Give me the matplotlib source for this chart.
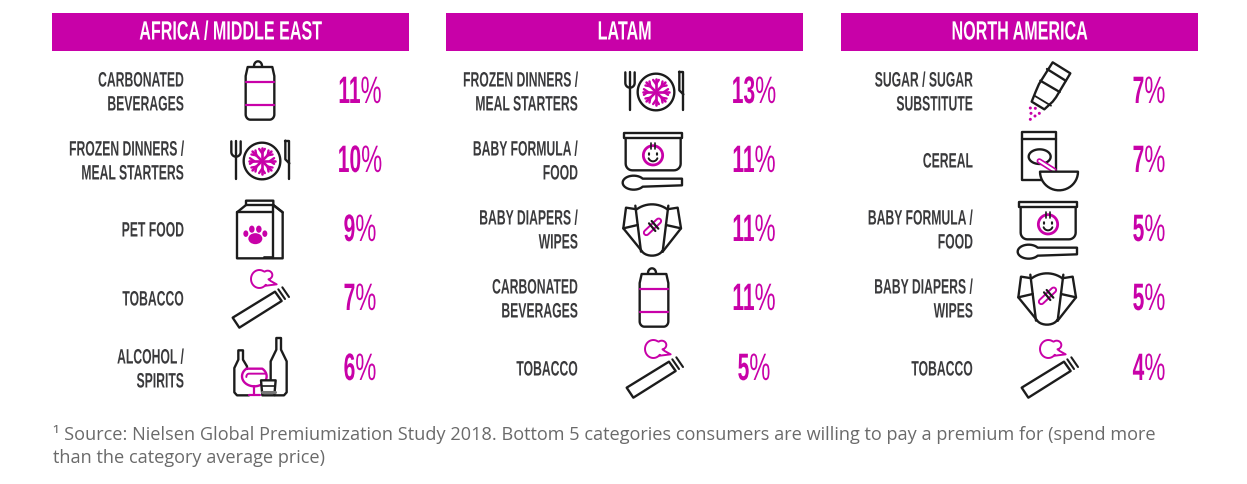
import matplotlib
matplotlib.use("Agg")
import matplotlib.pyplot as plt
import matplotlib.patches as mpatches
import matplotlib.patheffects as pe
from matplotlib.transforms import Affine2D, Bbox
import numpy as np

PINK = "#C801A8"
DARK = "#1c1c1c"
LABEL = "#3a3a3c"
BASE_FONT = "Liberation Sans"

regions = ["AFRICA / MIDDLE EAST", "LATAM", "NORTH AMERICA"]
africa_labels = ["CARBONATED\nBEVERAGES", "FROZEN DINNERS /\nMEAL STARTERS", "PET FOOD", "TOBACCO", "ALCOHOL /\nSPIRITS"]
latam_labels = ["FROZEN DINNERS /\nMEAL STARTERS", "BABY FORMULA /\nFOOD", "BABY DIAPERS /\nWIPES", "CARBONATED\nBEVERAGES", "TOBACCO"]
north_labels = ["SUGAR / SUGAR\nSUBSTITUTE", "CEREAL", "BABY FORMULA /\nFOOD", "BABY DIAPERS /\nWIPES", "TOBACCO"]
africa_values = [11, 10, 9, 7, 6]
latam_values = [13, 11, 11, 11, 5]
north_values = [7, 7, 5, 5, 4]
africa_icons = ["can", "plate", "carton", "cig", "alcohol"]
latam_icons = ["plate", "baby", "diaper", "can", "cig"]
north_icons = ["shaker", "cereal", "baby", "diaper", "cig"]
footnote = ("\u00b9 Source: Nielsen Global Premiumization Study 2018. Bottom 5 categories consumers are willing to pay a premium for (spend more\n"
            "than the category average price)")

panel_x = [52, 446, 841]
panel_w = 357
row_y = [92, 161, 230, 299, 369]

fig = plt.figure(figsize=(12.47, 4.84), dpi=100)
ax = fig.add_axes([0, 0, 1, 1])
ax.set_xlim(0, 1247)
ax.set_ylim(484, 0)
ax.axis("off")


# no condensed family is installed, so squeeze the glyphs sideways around the text anchor
class Squeeze(pe.AbstractPathEffect):
    def __init__(self, anchor_x, sx):
        super().__init__()
        self.anchor_x = anchor_x
        self.sx = sx

    def draw_path(self, renderer, gc, tpath, affine, rgbFace=None):
        t = affine + Affine2D().translate(-self.anchor_x, 0).scale(self.sx, 1).translate(self.anchor_x, 0)
        renderer.draw_path(gc, tpath, t, rgbFace)


def squeeze_text(txt, anchor_x, sx):
    txt.set_path_effects([Squeeze(anchor_x, sx)])
    orig = txt.get_window_extent

    # keep the reported box in step with what is really drawn
    def get_window_extent(renderer=None, dpi=None):
        bb = orig(renderer, dpi)
        return Bbox.from_extents(anchor_x + (bb.x0 - anchor_x) * sx, bb.y0,
                                 anchor_x + (bb.x1 - anchor_x) * sx, bb.y1)
    txt.get_window_extent = get_window_extent


# icon outlines are written in 3x crop coordinates around an origin
def mapper(cx, cy, ox, oy):
    return lambda pts: [(cx + (x - ox) / 3.0, cy + (y - oy) / 3.0) for x, y in pts]


def line(pts, color=DARK, lw=1.7, closed=False, fill="none"):
    if pts[0] == pts[-1]:
        closed = True
    ax.add_patch(mpatches.Polygon(pts, closed=closed, fill=fill != "none", facecolor=fill,
                                  edgecolor=color, lw=lw, joinstyle="round", capstyle="round"))


def arc_pts(x0, y0, rx, ry, a0, a1, n=24):
    t = np.radians(np.linspace(a0, a1, n))
    return list(zip(x0 + rx * np.cos(t), y0 + ry * np.sin(t)))


def draw_can(cx, cy):
    P = mapper(cx, cy, 631, 281)
    line(P([(588, 230), (594, 203), (668, 203), (674, 230), (674, 345)] + arc_pts(660, 345, 14, 16, 0, 90)
           + arc_pts(602, 345, 14, 16, 90, 180) + [(588, 230)]))
    line(P(arc_pts(625, 200, 12, 14, 180, 360)))
    line(P([(589, 248), (673, 248)]), PINK, 1.6)
    line(P([(589, 318), (673, 318)]), PINK, 1.6)


def draw_plate(cx, cy):
    P = mapper(cx, cy, 168, 97)
    line(P(arc_pts(168, 97, 55, 55, 0, 360, 60)), lw=1.7, closed=True)
    for a in np.arange(0, 180, 45):
        dx, dy = np.cos(np.radians(a)), np.sin(np.radians(a))
        line(P([(168 - 40 * dx, 97 - 40 * dy), (168 + 40 * dx, 97 + 40 * dy)]), PINK, 1.9)
    for a in np.arange(0, 360, 45):
        for side in (-35, 35):
            d0 = np.radians(a)
            d1 = np.radians(a + side)
            bx, by = 168 + 24 * np.cos(d0), 97 + 24 * np.sin(d0)
            line(P([(bx, by), (bx + 15 * np.cos(d1), by + 15 * np.sin(d1))]), PINK, 1.7)
    # fork
    line(P([(90, 38), (90, 152)]))
    line(P([(76, 38), (76, 70)] + arc_pts(90, 70, 14, 14, 180, 90, 8) + arc_pts(90, 70, 14, 14, 90, 0, 8) + [(104, 38)]))
    # knife
    line(P([(238, 36), (250, 36), (250, 152)]))
    line(P([(238, 36), (238, 92), (250, 104)]))


def draw_carton(cx, cy):
    P = mapper(cx, cy, 632, 105)
    line(P([(563, 52), (563, 190), (700, 190), (700, 52), (672, 30), (672, 17), (590, 17), (590, 30), (563, 52)]))
    line(P([(563, 52), (672, 52), (672, 190)]))
    line(P([(590, 30), (672, 30), (672, 52)]))
    line(P([(672, 30), (700, 52)]))
    line(P([(645, 190), (645, 186), (672, 186)]), lw=1.2)
    px, py = P([(618, 125)])[0]
    ax.add_patch(mpatches.Ellipse((px, py + 2), 14, 11, color=PINK, lw=0))
    for dx, dy, s in [(-9.5, -3, 5), (-3.5, -7.5, 5.5), (3.5, -7.5, 5.5), (9.5, -3, 5)]:
        ax.add_patch(mpatches.Ellipse((px + dx, py + dy), s, s * 1.3, color=PINK, lw=0))


def draw_cig(cx, cy):
    P = mapper(cx, cy, 630, 306)
    line(P([(548, 368), (675, 290), (695, 318), (568, 398)]), closed=True)
    line(P([(685, 283), (705, 312)]), lw=1.5)
    line(P([(697, 277), (717, 306)]), lw=1.5)
    line(P(arc_pts(628, 252, 25, 27, 40, 300, 30) + arc_pts(653, 240, 14, 13, 230, 440, 16)
           + [(662, 258), (680, 268), (648, 272)]), PINK, 1.4)


def draw_alcohol(cx, cy):
    P = mapper(cx, cy, 105, 105)
    line(P([(66, 108), (66, 100), (54, 80), (54, 52), (40, 52), (40, 80), (28, 105), (28, 178), (36, 187), (72, 187)]))
    line(P([(137, 140), (137, 85), (154, 50), (154, 15), (168, 15), (168, 50), (185, 85), (185, 178), (177, 187), (150, 187)]))
    bowl = arc_pts(88, 130, 37, 30, -50, 230, 30)
    line(P(bowl + [bowl[0]]), PINK, 1.7)
    line(P([(122, 122), (72, 122)] + arc_pts(72, 132, 8, 10, 270, 180, 8)), PINK, 1.4)
    line(P([(88, 160), (88, 187)]), PINK, 1.6)
    line(P([(72, 187), (105, 187)]), PINK, 1.6)
    line(P([(108, 142), (152, 142), (148, 187), (112, 187)]), closed=True, fill="white")
    line(P([(110, 158), (150, 158)]), lw=1.2)
    line(P([(111, 177), (149, 177)]), "#777777", 2.2)


def draw_baby(cx, cy):
    P = mapper(cx, cy, 120, 105)
    line(P([(32, 20), (207, 20), (207, 37), (32, 37)]), closed=True)
    line(P([(38, 37), (38, 113)] + arc_pts(58, 113, 20, 20, 180, 90, 8) + arc_pts(183, 113, 20, 20, 90, 0, 8) + [(203, 37)]))
    line(P(arc_pts(120, 88, 29, 29, 0, 360, 40)), PINK, 2.0, closed=True)
    ex, ey = P([(108, 84)])[0]
    ax.add_patch(mpatches.Ellipse((ex, ey), 2.2, 3.6, color=DARK, lw=0))
    ex, ey = P([(132, 84)])[0]
    ax.add_patch(mpatches.Ellipse((ex, ey), 2.2, 3.6, color=DARK, lw=0))
    line(P(arc_pts(120, 92, 14, 14, 20, 160, 12)), lw=1.4)
    line(P([(115, 52), (115, 68)]), lw=1.2)
    line(P([(125, 52), (125, 68)]), lw=1.2)
    line(P(arc_pts(62, 170, 33, 21, 35, 325, 30) + [(207, 158), (207, 178)]), closed=True)


def draw_diaper(cx, cy):
    P = mapper(cx, cy, 118, 105)
    curve_top = arc_pts(118, 110, 80, 82, 235, 305, 14)
    line(P([(32, 100), (40, 38)] + curve_top + [(195, 38), (205, 100), (150, 170)]
           + arc_pts(118, 160, 33, 22, 20, 160, 12) + [(32, 100)]))
    line(P([(68, 32), (85, 170)]))
    line(P([(167, 32), (150, 170)]))
    line(P([(32, 100), (75, 90)]))
    line(P([(205, 100), (160, 90)]))
    line(P([(101, 113), (138, 78)]), PINK, 5.0)
    line(P([(101, 113), (138, 78)]), "white", 2.2)
    line(P([(109, 85), (128, 108)]), lw=1.6)
    line(P([(117, 78), (137, 101)]), lw=1.6)


def draw_shaker(cx, cy):
    P = mapper(cx, cy, 150, 96)
    line(P([(155, 7), (208, 40), (165, 112), (155, 125), (130, 148), (92, 125), (104, 95), (114, 72)]), closed=True)
    line(P([(138, 27), (194, 62)]))
    line(P([(118, 62), (176, 96)]))
    line(P([(102, 108), (150, 137)]), lw=1.3)
    for x, y in [(88, 144), (103, 145), (90, 160), (115, 160), (102, 168), (88, 178)]:
        dx, dy = P([(x, y)])[0]
        ax.add_patch(mpatches.Circle((dx, dy), 1.5, color=PINK, lw=0))


def draw_cereal(cx, cy):
    P = mapper(cx, cy, 148, 300)
    line(P([(63, 213), (167, 213), (167, 358), (63, 358)]), closed=True)
    line(P([(63, 233), (167, 233)]))
    line(P(arc_pts(117, 287, 33, 22, 0, 360, 40)), closed=True)
    line(P([(116, 300), (160, 328)]), PINK, 4.0)
    line(P([(116, 300), (160, 328)]), "white", 1.6)
    line(P([(118, 332), (232, 332)] + arc_pts(175, 332, 57, 56, 0, 180)), closed=True, fill="white")


draw_funcs = {"can": draw_can, "plate": draw_plate, "carton": draw_carton, "cig": draw_cig,
              "alcohol": draw_alcohol, "baby": draw_baby, "diaper": draw_diaper,
              "shaker": draw_shaker, "cereal": draw_cereal}
# nudges of each icon from the row / panel centre
icon_off = {"can": (0, 1), "plate": (2, 0), "carton": (0, 0), "cig": (0, -2), "alcohol": (0, -1),
            "baby": (-1, 0), "diaper": (-2, 0), "shaker": (2, 0), "cereal": (1, 0)}

all_labels = [africa_labels, latam_labels, north_labels]
all_values = [africa_values, latam_values, north_values]
all_icons = [africa_icons, latam_icons, north_icons]

renderer = fig.canvas.get_renderer()
for p, x0 in enumerate(panel_x):
    ax.add_patch(mpatches.Rectangle((x0, 13), panel_w, 38, color=PINK, lw=0))
    head_x = x0 + panel_w / 2.0
    head = ax.text(head_x, 32.5, regions[p], color="white", ha="center", va="center",
                   family=BASE_FONT, weight="bold", fontsize=19)
    squeeze_text(head, head_x, 0.61)
    for i, y in enumerate(row_y):
        label = ax.text(x0 + 132, y + 1, all_labels[p][i], color=LABEL, ha="right", va="center", ma="right",
                        family=BASE_FONT, weight="bold", fontsize=15, linespacing=1.33)
        squeeze_text(label, x0 + 132, 0.585)
        dx, dy = icon_off[all_icons[p][i]]
        draw_funcs[all_icons[p][i]](x0 + 208 + dx, y + dy)
        # digits are heavy and the percent sign light, so centre them as a pair
        digits = ax.text(0, y + 1, str(all_values[p][i]), color=PINK, ha="right", va="center",
                         family=BASE_FONT, weight="bold", fontsize=27.5)
        pct = ax.text(0, y + 1, "%", color=PINK, ha="left", va="center", family=BASE_FONT, fontsize=27.5)
        w1 = digits.get_window_extent(renderer).width * 0.55
        w2 = pct.get_window_extent(renderer).width * 0.62
        split = x0 + 308 - (w1 + w2) / 2.0 + w1
        digits.set_x(split)
        pct.set_x(split)
        squeeze_text(digits, split, 0.55)
        squeeze_text(pct, split, 0.62)

ax.text(53, 446, footnote, color="#6a6a6a", ha="left", va="center", family="Open Sans",
        fontsize=13.02, linespacing=1.42)

fig.savefig("out.png", dpi=100)
